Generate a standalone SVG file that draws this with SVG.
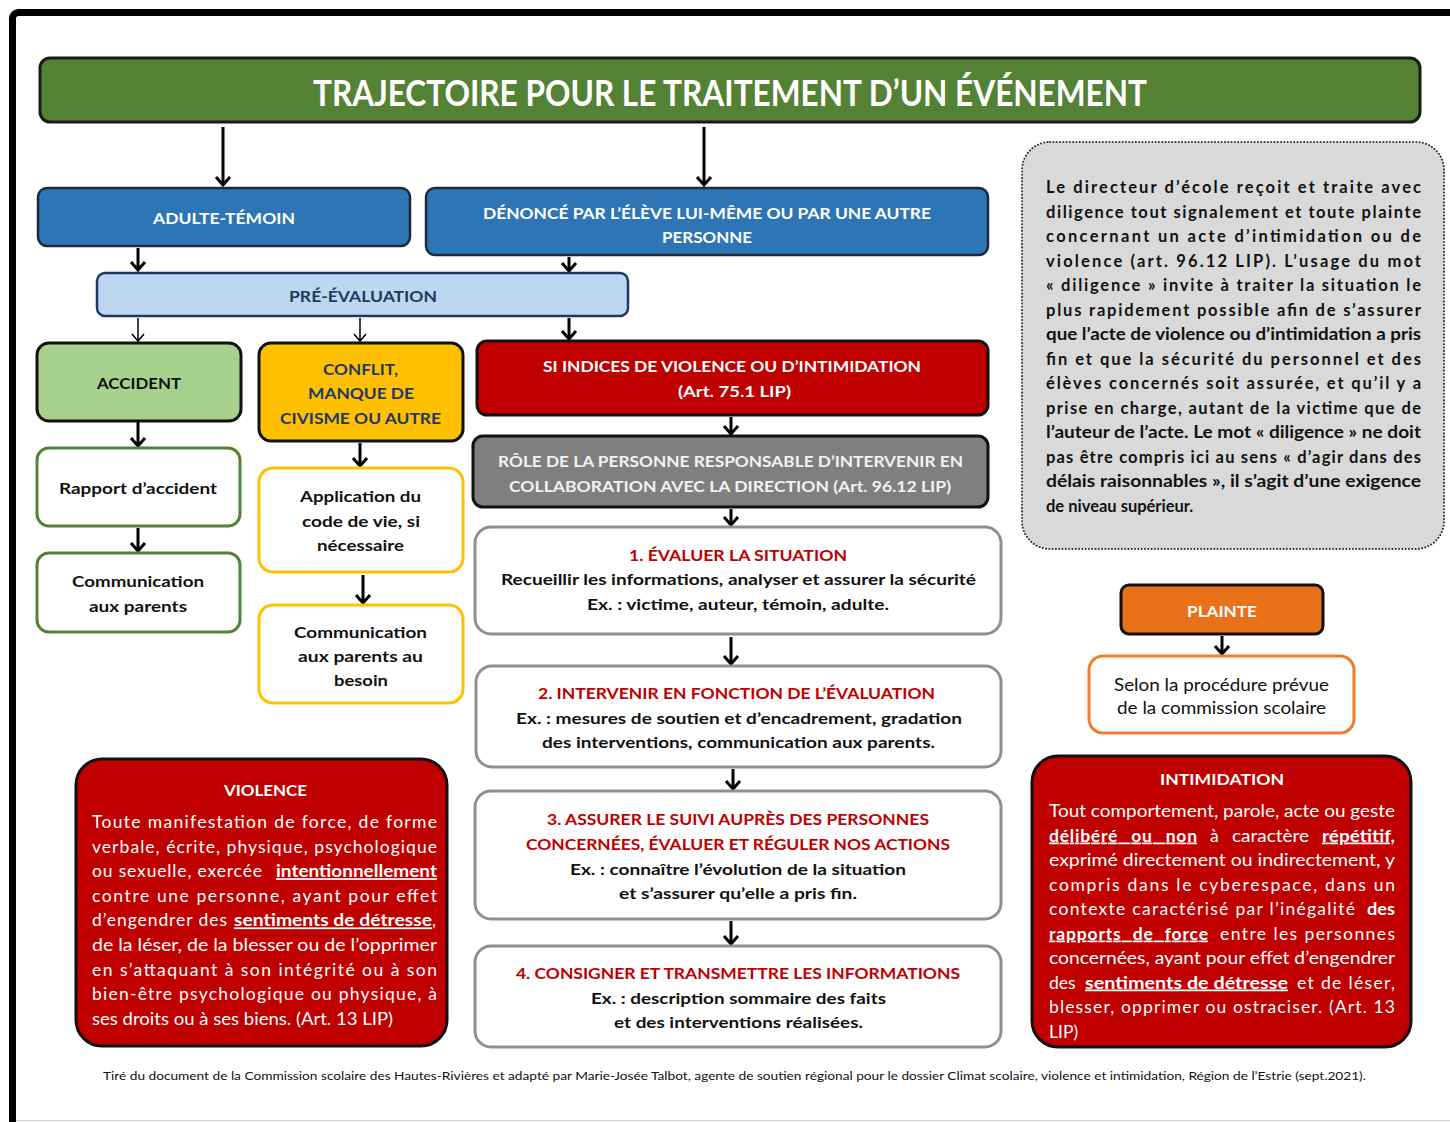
<svg xmlns="http://www.w3.org/2000/svg" width="1450" height="1122" viewBox="0 0 1450 1122">
<style>
text{font-family:Lato,"Liberation Sans","DejaVu Sans",sans-serif;}
.b{font-weight:700;}
.lbl{font-size:16px;font-weight:700;}
.bod{font-size:16px;font-weight:700;fill:#111;}
.w{fill:#fff;}
.nv{fill:#1F3864;}
.rd{fill:#C00000;}
.u{text-decoration:underline;font-weight:700;}
.note{font-size:16.5px;font-weight:700;fill:#111;}
.def{font-size:17.5px;fill:#fff;}
.con{fill:none;stroke:#000;}
.thick{stroke-width:3;marker-end:url(#ah);}
.thin{stroke-width:1.5;marker-end:url(#ahs);}
</style>
<defs>
<marker id="ah" markerUnits="userSpaceOnUse" viewBox="0 0 12 16" markerWidth="12" markerHeight="16" refX="10" refY="8" orient="auto" overflow="visible">
<path d="M2,1 L10,8 L2,15" fill="none" stroke="#000" stroke-width="3"/>
</marker>
<marker id="ahs" markerUnits="userSpaceOnUse" viewBox="0 0 12 16" markerWidth="12" markerHeight="16" refX="10" refY="8" orient="auto" overflow="visible">
<path d="M3,2 L10,8 L3,14" fill="none" stroke="#000" stroke-width="1.5"/>
</marker>
</defs>
<rect x="0" y="0" width="1450" height="1122" fill="#fff"/>
<rect x="12.5" y="12.5" width="1470" height="1140" rx="6" fill="none" stroke="#000" stroke-width="7"/>
<line x1="16" y1="1120.5" x2="1450" y2="1120.5" stroke="#cfcfcf" stroke-width="1"/>

<g id="title">
<rect x="40" y="58" width="1380" height="64" rx="10" fill="#548235" stroke="#1a1a1a" stroke-width="3"/>
<text x="313" y="106" class="b w" font-size="37" textLength="834" lengthAdjust="spacingAndGlyphs">TRAJECTOIRE POUR LE TRAITEMENT D’UN ÉVÉNEMENT</text>
</g>

<g id="connectors">
<path class="con thick" d="M223,127 V185"/>
<path class="con thick" d="M704,127 V185"/>
<path class="con thick" d="M138,248 V270"/>
<path class="con thick" d="M569,257 V271"/>
<path class="con thin" d="M138,318 V341"/>
<path class="con thin" d="M360,318 V341"/>
<path class="con thick" d="M569,318 V339"/>
<path class="con thick" d="M138,422 V446"/>
<path class="con thick" d="M138,528 V551"/>
<path class="con thick" d="M360,443 V466"/>
<path class="con thick" d="M363,575 V603"/>
<path class="con thick" d="M731,417 V434"/>
<path class="con thick" d="M731,509 V525"/>
<path class="con thick" d="M731,637 V664"/>
<path class="con thick" d="M733,769 V789"/>
<path class="con thick" d="M731,921 V944"/>
<path class="con thick" d="M1222,636 V654"/>
</g>

<g id="adulte">
<rect x="38" y="188" width="372" height="58" rx="9" fill="#2E75B6" stroke="#1e2a3a" stroke-width="2.5"/>
<text x="153" y="224" class="lbl w" textLength="142" lengthAdjust="spacingAndGlyphs">ADULTE-TÉMOIN</text>
</g>
<g id="denonce">
<rect x="426" y="188" width="562" height="67" rx="9" fill="#2E75B6" stroke="#1e2a3a" stroke-width="2.5"/>
<text x="483" y="219" class="lbl w" textLength="448" lengthAdjust="spacingAndGlyphs">DÉNONCÉ PAR L’ÉLÈVE LUI-MÊME OU PAR UNE AUTRE</text>
<text x="662" y="243" class="lbl w" textLength="90" lengthAdjust="spacingAndGlyphs">PERSONNE</text>
</g>
<g id="preevaluation">
<rect x="97" y="273" width="531" height="43" rx="8" fill="#BDD7EE" stroke="#1F3864" stroke-width="2.5"/>
<text x="289" y="302" class="lbl nv" textLength="148" lengthAdjust="spacingAndGlyphs">PRÉ-ÉVALUATION</text>
</g>
<g id="accident">
<rect x="37" y="343" width="204" height="78" rx="12" fill="#A9D18E" stroke="#111" stroke-width="3"/>
<text x="97" y="389" class="lbl" fill="#111" textLength="84" lengthAdjust="spacingAndGlyphs">ACCIDENT</text>
</g>
<g id="conflit">
<rect x="259" y="343" width="204" height="98" rx="12" fill="#FFC000" stroke="#111" stroke-width="3"/>
<text x="323" y="375" class="lbl nv" textLength="75" lengthAdjust="spacingAndGlyphs">CONFLIT,</text>
<text x="308" y="399" class="lbl nv" textLength="106" lengthAdjust="spacingAndGlyphs">MANQUE DE</text>
<text x="280" y="424" class="lbl nv" textLength="161" lengthAdjust="spacingAndGlyphs">CIVISME OU AUTRE</text>
</g>
<g id="indices">
<rect x="477" y="341" width="511" height="74" rx="10" fill="#C00000" stroke="#111" stroke-width="3"/>
<text x="543" y="372" class="lbl w" textLength="378" lengthAdjust="spacingAndGlyphs">SI INDICES DE VIOLENCE OU D’INTIMIDATION</text>
<text x="678" y="397" class="lbl w" textLength="113" lengthAdjust="spacingAndGlyphs">(Art. 75.1 LIP)</text>
</g>
<g id="rapport">
<rect x="37" y="448" width="203" height="78" rx="12" fill="#fff" stroke="#548235" stroke-width="3"/>
<text x="59" y="494" class="bod" textLength="158" lengthAdjust="spacingAndGlyphs">Rapport d’accident</text>
</g>
<g id="comm-accident">
<rect x="37" y="553" width="203" height="79" rx="12" fill="#fff" stroke="#548235" stroke-width="3"/>
<text x="72" y="587" class="bod" textLength="132" lengthAdjust="spacingAndGlyphs">Communication</text>
<text x="89" y="612" class="bod" textLength="98" lengthAdjust="spacingAndGlyphs">aux parents</text>
</g>
<g id="application">
<rect x="259" y="468" width="204" height="104" rx="14" fill="#fff" stroke="#FFC000" stroke-width="3"/>
<text x="300" y="502" class="bod" textLength="121" lengthAdjust="spacingAndGlyphs">Application du</text>
<text x="302" y="527" class="bod" textLength="118" lengthAdjust="spacingAndGlyphs">code de vie, si</text>
<text x="317" y="551" class="bod" textLength="87" lengthAdjust="spacingAndGlyphs">nécessaire</text>
</g>
<g id="comm-conflit">
<rect x="259" y="605" width="204" height="98" rx="14" fill="#fff" stroke="#FFC000" stroke-width="3"/>
<text x="294" y="638" class="bod" textLength="133" lengthAdjust="spacingAndGlyphs">Communication</text>
<text x="298" y="662" class="bod" textLength="125" lengthAdjust="spacingAndGlyphs">aux parents au</text>
<text x="334" y="686" class="bod" textLength="54" lengthAdjust="spacingAndGlyphs">besoin</text>
</g>
<g id="role">
<rect x="473" y="436" width="515" height="71" rx="10" fill="#7F7F7F" stroke="#111" stroke-width="3"/>
<text x="498" y="467" class="lbl" fill="#F2F2F2" textLength="465" lengthAdjust="spacingAndGlyphs">RÔLE DE LA PERSONNE RESPONSABLE D’INTERVENIR EN</text>
<text x="509" y="492" class="lbl" fill="#F2F2F2" textLength="442" lengthAdjust="spacingAndGlyphs">COLLABORATION AVEC LA DIRECTION (Art. 96.12 LIP)</text>
</g>
<g id="etape1">
<rect x="475" y="527" width="526" height="107" rx="16" fill="#fff" stroke="#8f8f8f" stroke-width="3"/>
<text x="629" y="561" class="lbl rd" textLength="218" lengthAdjust="spacingAndGlyphs">1. ÉVALUER LA SITUATION</text>
<text x="501" y="585" class="bod" textLength="475" lengthAdjust="spacingAndGlyphs">Recueillir les informations, analyser et assurer la sécurité</text>
<text x="587" y="610" class="bod" textLength="302" lengthAdjust="spacingAndGlyphs">Ex. : victime, auteur, témoin, adulte.</text>
</g>
<g id="etape2">
<rect x="476" y="666" width="525" height="101" rx="16" fill="#fff" stroke="#8f8f8f" stroke-width="3"/>
<text x="538" y="699" class="lbl rd" textLength="397" lengthAdjust="spacingAndGlyphs">2. INTERVENIR EN FONCTION DE L’ÉVALUATION</text>
<text x="516" y="724" class="bod" textLength="446" lengthAdjust="spacingAndGlyphs">Ex. : mesures de soutien et d’encadrement, gradation</text>
<text x="542" y="748" class="bod" textLength="393" lengthAdjust="spacingAndGlyphs">des interventions, communication aux parents.</text>
</g>
<g id="etape3">
<rect x="475" y="791" width="526" height="128" rx="16" fill="#fff" stroke="#8f8f8f" stroke-width="3"/>
<text x="547" y="825" class="lbl rd" textLength="382" lengthAdjust="spacingAndGlyphs">3. ASSURER LE SUIVI AUPRÈS DES PERSONNES</text>
<text x="526" y="850" class="lbl rd" textLength="424" lengthAdjust="spacingAndGlyphs">CONCERNÉES, ÉVALUER ET RÉGULER NOS ACTIONS</text>
<text x="570" y="875" class="bod" textLength="336" lengthAdjust="spacingAndGlyphs">Ex. : connaître l’évolution de la situation</text>
<text x="619" y="899" class="bod" textLength="238" lengthAdjust="spacingAndGlyphs">et s’assurer qu’elle a pris fin.</text>
</g>
<g id="etape4">
<rect x="475" y="946" width="526" height="101" rx="16" fill="#fff" stroke="#8f8f8f" stroke-width="3"/>
<text x="516" y="979" class="lbl rd" textLength="444" lengthAdjust="spacingAndGlyphs">4. CONSIGNER ET TRANSMETTRE LES INFORMATIONS</text>
<text x="591" y="1004" class="bod" textLength="295" lengthAdjust="spacingAndGlyphs">Ex. : description sommaire des faits</text>
<text x="614" y="1028" class="bod" textLength="249" lengthAdjust="spacingAndGlyphs">et des interventions réalisées.</text>
</g>

<g id="note">
<rect x="1022" y="142" width="422" height="407" rx="28" fill="#D9D9D9" stroke="#333" stroke-width="2" stroke-dasharray="0.1 3.2" stroke-linecap="round"/>
<text x="1046" y="193" class="note" textLength="375" lengthAdjust="spacing">Le directeur d’école reçoit et traite avec</text>
<text x="1046" y="217.5" class="note" textLength="375" lengthAdjust="spacing">diligence tout signalement et toute plainte</text>
<text x="1046" y="242" class="note" textLength="375" lengthAdjust="spacing">concernant un acte d’intimidation ou de</text>
<text x="1046" y="266.5" class="note" textLength="375" lengthAdjust="spacing">violence (art. 96.12 LIP). L’usage du mot</text>
<text x="1046" y="291" class="note" textLength="375" lengthAdjust="spacing">« diligence » invite à traiter la situation le</text>
<text x="1046" y="315.5" class="note" textLength="375" lengthAdjust="spacing">plus rapidement possible afin de s’assurer</text>
<text x="1046" y="340" class="note" textLength="375" lengthAdjust="spacingAndGlyphs">que l’acte de violence ou d’intimidation a pris</text>
<text x="1046" y="364.5" class="note" textLength="375" lengthAdjust="spacing">fin et que la sécurité du personnel et des</text>
<text x="1046" y="389" class="note" textLength="375" lengthAdjust="spacing">élèves concernés soit assurée, et qu’il y a</text>
<text x="1046" y="413.5" class="note" textLength="375" lengthAdjust="spacing">prise en charge, autant de la victime que de</text>
<text x="1046" y="438" class="note" textLength="375" lengthAdjust="spacingAndGlyphs">l’auteur de l’acte. Le mot « diligence » ne doit</text>
<text x="1046" y="462.5" class="note" textLength="375" lengthAdjust="spacing">pas être compris ici au sens « d’agir dans des</text>
<text x="1046" y="487" class="note" textLength="375" lengthAdjust="spacingAndGlyphs">délais raisonnables », il s’agit d’une exigence</text>
<text x="1046" y="511.5" class="note">de niveau supérieur.</text>
</g>

<g id="plainte">
<rect x="1121" y="585" width="202" height="49" rx="8" fill="#E8711A" stroke="#111" stroke-width="3"/>
<text x="1187" y="617" class="lbl w" textLength="70" lengthAdjust="spacingAndGlyphs">PLAINTE</text>
</g>
<g id="procedure">
<rect x="1089" y="656" width="265" height="77" rx="14" fill="#fff" stroke="#ED7D31" stroke-width="3"/>
<text x="1114" y="691" font-size="16.5" fill="#111" textLength="215" lengthAdjust="spacingAndGlyphs">Selon la procédure prévue</text>
<text x="1117" y="714" font-size="16.5" fill="#111" textLength="209" lengthAdjust="spacingAndGlyphs">de la commission scolaire</text>
</g>

<g id="violence">
<rect x="76" y="759" width="371" height="287" rx="26" fill="#C00000" stroke="#111" stroke-width="3"/>
<text x="224" y="796" class="lbl w" textLength="83" lengthAdjust="spacingAndGlyphs">VIOLENCE</text>
<text x="92" y="828" class="def" textLength="345" lengthAdjust="spacing">Toute manifestation de force, de forme</text>
<text x="92" y="852.6" class="def" textLength="345" lengthAdjust="spacing">verbale, écrite, physique, psychologique</text>
<text x="92" y="877.2" class="def" textLength="170" lengthAdjust="spacing">ou sexuelle, exercée</text>
<text x="276" y="877.2" class="def u" textLength="161" lengthAdjust="spacingAndGlyphs">intentionnellement</text>
<text x="92" y="901.8" class="def" textLength="345" lengthAdjust="spacing">contre une personne, ayant pour effet</text>
<text x="92" y="926.4" class="def" textLength="135" lengthAdjust="spacing">d’engendrer des</text>
<text x="234" y="926.4" class="def u" textLength="198" lengthAdjust="spacingAndGlyphs">sentiments de détresse</text>
<text x="432" y="926.4" class="def">,</text>
<text x="92" y="951" class="def" textLength="345" lengthAdjust="spacingAndGlyphs">de la léser, de la blesser ou de l’opprimer</text>
<text x="92" y="975.6" class="def" textLength="345" lengthAdjust="spacing">en s’attaquant à son intégrité ou à son</text>
<text x="92" y="1000.2" class="def" textLength="345" lengthAdjust="spacing">bien-être psychologique ou physique, à</text>
<text x="92" y="1024.8" class="def" textLength="301" lengthAdjust="spacingAndGlyphs">ses droits ou à ses biens. (Art. 13 LIP)</text>
</g>

<g id="intimidation">
<rect x="1032" y="756" width="379" height="291" rx="26" fill="#C00000" stroke="#111" stroke-width="3"/>
<text x="1160" y="785" class="lbl w" textLength="124" lengthAdjust="spacingAndGlyphs">INTIMIDATION</text>
<text x="1049" y="817" class="def" textLength="346" lengthAdjust="spacingAndGlyphs">Tout comportement, parole, acte ou geste</text>
<text x="1049" y="841.5" class="def u" textLength="148" word-spacing="8" lengthAdjust="spacing">délibéré ou non</text>
<text x="1210" y="841.5" class="def">à</text>
<text x="1232" y="841.5" class="def" textLength="77" lengthAdjust="spacingAndGlyphs">caractère</text>
<text x="1322" y="841.5" class="def u" textLength="73" lengthAdjust="spacingAndGlyphs">répétitif,</text>
<text x="1049" y="866" class="def" textLength="346" lengthAdjust="spacingAndGlyphs">exprimé directement ou indirectement, y</text>
<text x="1049" y="890.5" class="def" textLength="346" lengthAdjust="spacing">compris dans le cyberespace, dans un</text>
<text x="1049" y="915" class="def" textLength="306" lengthAdjust="spacing">contexte caractérisé par l’inégalité</text>
<text x="1367" y="915" class="def b" textLength="28" lengthAdjust="spacingAndGlyphs">des</text>
<text x="1049" y="939.5" class="def u" textLength="159" word-spacing="6" lengthAdjust="spacing">rapports de force</text>
<text x="1220" y="939.5" class="def" textLength="175" lengthAdjust="spacing">entre les personnes</text>
<text x="1049" y="964" class="def" textLength="346" lengthAdjust="spacingAndGlyphs">concernées, ayant pour effet d’engendrer</text>
<text x="1049" y="988.5" class="def">des</text>
<text x="1085" y="988.5" class="def u" textLength="203" lengthAdjust="spacingAndGlyphs">sentiments de détresse</text>
<text x="1297" y="988.5" class="def" textLength="98" lengthAdjust="spacing">et de léser,</text>
<text x="1049" y="1013" class="def" textLength="346" lengthAdjust="spacing">blesser, opprimer ou ostraciser. (Art. 13</text>
<text x="1049" y="1037.5" class="def">LIP)</text>
</g>

<text id="source" x="103" y="1080" font-size="12" fill="#111" textLength="1263" lengthAdjust="spacingAndGlyphs">Tiré du document de la Commission scolaire des Hautes-Rivières et adapté par Marie-Josée Talbot, agente de soutien régional pour le dossier Climat scolaire, violence et intimidation, Région de l’Estrie (sept.2021).</text>
</svg>
